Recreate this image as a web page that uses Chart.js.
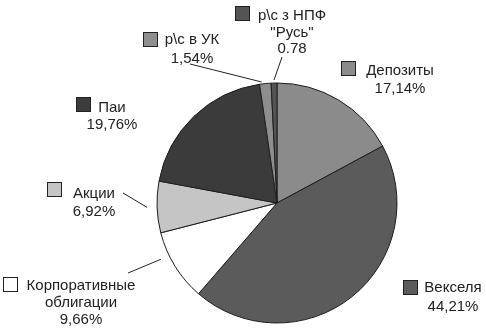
<!DOCTYPE html>
<html>
<head>
<meta charset="utf-8">
<script src="https://cdn.jsdelivr.net/npm/chart.js@4/dist/chart.umd.min.js"></script>
<style>
    body { margin: 0; background: #fff; }
</style>
</head>
<body>
<canvas id="myChart" width="486" height="336"></canvas>
<script>
// Data

const categories = [
    ["Депозиты"],
    ["Векселя"],
    ["Корпоративные", "облигации"],
    ["Акции"],
    ["Паи"],
    ["р\\с в УК"],
    ["р\\с з НПФ", "\"Русь\""]
];
const shares = [17.14, 44.21, 9.66, 6.92, 19.76, 1.54, 0.78];
const colors = ["#8b8b8b", "#5b5b5b", "#ffffff", "#c5c5c5", "#3b3b3b", "#8e8e8e", "#545454"];

// the last share is printed without a percent sign and with a dot
const valueText = (v, i) => i === 6 ? v.toFixed(2) : v.toFixed(2).replace(".", ",") + "%";

// Label placement: legend square, text centre, first baseline, line step,
// and optional leader line (start point, fraction along the arc, offset from rim)
const labelLayout = [
    { box: [341, 61], cx: 400, y: 75, step: 18 },
    { box: [403, 280], cx: 453, y: 292, step: 19 },
    { box: [3, 277], cx: 81, y: 290, step: 16.8, line: [128, 273], f: 0.67, dr: 9 },
    { box: [47, 182], cx: 94, y: 198, step: 17.5, line: [123, 193], f: 0.5, dr: 10 },
    { box: [76, 97], cx: 112, y: 111.5, step: 17 },
    { box: [143, 32], cx: 192, y: 43.5, step: 19.5, line: [190, 64], f: 0.2, dr: 2 },
    { box: [235, 6], cx: 292, y: 20, step: 16.7, line: [282, 57], f: 0.5, dr: 3 }
];

const pieLabels = {
    id: "pieLabels",
    afterDraw(chart) {
        const ctx = chart.ctx;
        const arcs = chart.getDatasetMeta(0).data;
        ctx.save();
        ctx.font = "15px 'Liberation Sans', Arial, sans-serif";
        ctx.textAlign = "center";
        ctx.textBaseline = "alphabetic";
        labelLayout.forEach((l, i) => {
            const lines = categories[i].concat([valueText(shares[i], i)]);
            ctx.fillStyle = "#222";
            lines.forEach((t, k) => ctx.fillText(t, l.cx, l.y + k * l.step));

            ctx.fillStyle = colors[i];
            ctx.strokeStyle = "#222";
            ctx.lineWidth = 1;
            ctx.fillRect(l.box[0] + 0.5, l.box[1] + 0.5, 14, 14);
            ctx.strokeRect(l.box[0] + 0.5, l.box[1] + 0.5, 14, 14);

            if (l.line) {
                const a = arcs[i];
                const ang = a.startAngle + l.f * (a.endAngle - a.startAngle);
                const r = a.outerRadius + l.dr;
                ctx.beginPath();
                ctx.moveTo(l.line[0], l.line[1]);
                ctx.lineTo(a.x + r * Math.cos(ang), a.y + r * Math.sin(ang));
                ctx.stroke();
            }
        });
        ctx.restore();
    }
};

// Config

const config = {
    type: "pie",
    data: {
        labels: categories.map(c => c.join(" ")),
        datasets: [{
            data: shares,
            backgroundColor: colors,
            borderColor: "#1e1e1e",
            borderWidth: 1
        }]
    },
    options: {
        responsive: false,
        animation: false,
        layout: {
            padding: { left: 156.5, right: 88.5, top: 82.5, bottom: 12.5 }
        },
        plugins: {
            legend: { display: false },
            tooltip: { enabled: false }
        }
    },
    plugins: [pieLabels]
};

// Render

const myChart = new Chart(document.getElementById("myChart"), config);
</script>
</body>
</html>
